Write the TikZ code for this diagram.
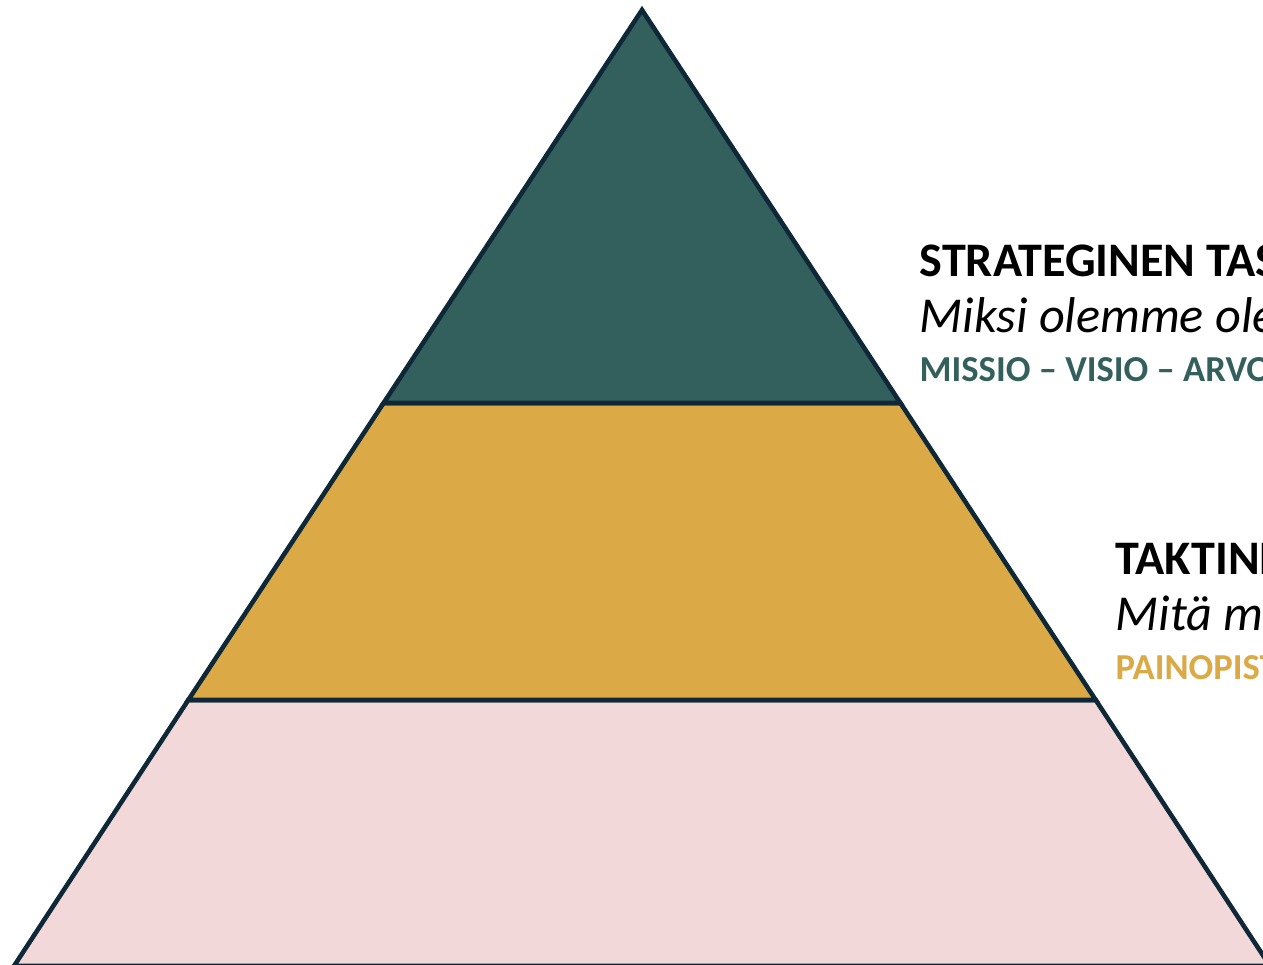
\documentclass[tikz,border=0pt]{standalone}
\usepackage{fontspec}
\setmainfont{Carlito}

\definecolor{tasoteal}{HTML}{33605D}
\definecolor{tasogold}{HTML}{DBAA46}
\definecolor{tasopink}{HTML}{F2D8D8}
\definecolor{tasoline}{HTML}{0F2837}

\tikzset{
  band/.style={draw=tasoline, line width=1.3pt},
  otsikko/.style={anchor=base west, inner sep=0pt, font=\fontsize{13.7}{16}\selectfont\bfseries},
  kysymys/.style={anchor=base west, inner sep=0pt, font=\fontsize{14.3}{16}\selectfont\itshape},
  avain/.style={anchor=base west, inner sep=0pt, font=\fontsize{10.4}{12}\selectfont\bfseries}
}

\begin{document}
\begin{tikzpicture}[x=0.01cm, y=-0.01cm]
\useasboundingbox (0,0) rectangle (1263,965);
\clip (0,0) rectangle (1263,965);

% Pyramid bands
\fill[white] (0,0) rectangle (1263,965);
\draw[band, fill=tasopink] (188.3,700) -- (1095.7,700) -- (1270,966) -- (14,966) -- cycle;
\draw[band, fill=tasogold] (383.6,403) -- (900.4,403) -- (1095.7,700) -- (188.3,700) -- cycle;
\draw[band, fill=tasoteal] (642,10) -- (900.4,403) -- (383.6,403) -- cycle;

% Strateginen taso
\node[otsikko] (strat) at (919,277) {STRATEGINEN TASO};
\node[kysymys] (miksi) at (919,333) {Miksi olemme olemassa?};
\node[avain, text=tasoteal] (missio) at (919,382) {MISSIO – VISIO – ARVOT};

% Taktinen taso
\node[otsikko] (takt) at (1115,575) {TAKTINEN TASO};
\node[kysymys] (mita) at (1115,631) {Mitä me teemme?};
\node[avain, text=tasogold] (paino) at (1115,680) {PAINOPISTEET};
\end{tikzpicture}
\end{document}
